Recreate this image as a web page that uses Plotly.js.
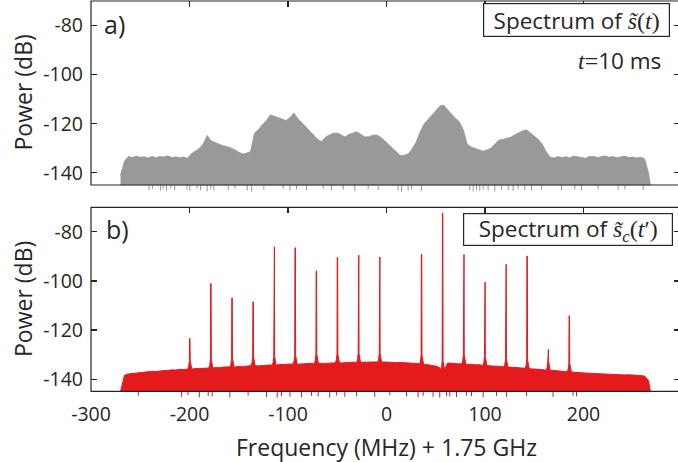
<!DOCTYPE html>
<html><head><meta charset="utf-8">
<script src="https://cdn.plot.ly/plotly-3.0.1.min.js"></script>
<style>html,body{margin:0;padding:0;overflow:hidden;background:#fff}#chart{width:682px;height:462px}</style>
</head><body><div id="chart"></div>
<script>
// ---------------- data ----------------
// frequency grid (MHz offset from 1.75 GHz)
const freqGrid = [-270,-266,-262,-258,-254,-250,-246,-242,-238,-234,-230,-226,-222,-218,-214,-210,-206,-202,-198,-194,-190,-186,-182,-178,-174,-170,-166,-162,-158,-154,-150,-146,-142,-138,-134,-130,-126,-122,-118,-114,-110,-106,-102,-98,-94,-90,-86,-82,-78,-74,-70,-66,-62,-58,-54,-50,-46,-42,-38,-34,-30,-26,-22,-18,-14,-10,-6,-2,2,6,10,14,18,22,26,30,34,38,42,46,50,54,58,62,66,70,74,78,82,86,90,94,98,102,106,110,114,118,122,126,130,134,138,142,146,150,154,158,162,166,170,174,178,182,186,190,194,198,202,206,210,214,218,222,226,230,234,238,242,246,250,254,258,262,266];
// panel a) spectrum of s~(t), top envelope (dB)
const powerA = [
  -141,-135.2,-133.4,-133.8,-133.2,-133.7,-133.5,-134.0,-133.3,-133.9,-133.4,-133.6,-133.1,-133.8,-133.5,-133.9,-133.6,-134.1,
  -132.2,-131.3,-130.1,-128.2,-124.8,-127.0,-127.6,-128.5,-129.0,-129.3,-129.8,-130.6,-131.6,-132.4,-132.0,-131.4,
  -123.8,-122.4,-120.4,-118.8,-116.4,-117.0,-117.5,-118.3,-118.7,-117.6,-115.6,-117.9,-119.6,-121.6,-123.1,-124.8,-126.3,
  -127.3,-125.5,-124.6,-123.9,-123.8,-124.6,-125.4,-124.3,-123.9,-123.3,-124.4,-125.4,-125.3,-124.7,-124.6,-125.5,-126.9,
  -128.4,-130.0,-131.6,-133.0,-132.9,-132.3,-130.3,-127.6,-123.5,-120.2,-118.4,-116.7,-114.8,-112.9,-112.4,-114.5,-116.1,
  -117.7,-119.3,-122.5,-128.4,-129.5,-130.1,-130.7,-131.2,-130.7,-130.0,-128.3,-126.7,-126.4,-125.9,-125.5,-124.6,-123.7,
  -123.0,-122.5,-123.8,-125.3,-126.3,-128.3,-131.3,
  -133.6,-134.0,-133.4,-133.8,-133.5,-133.9,-133.2,-133.6,-133.7,-134.1,-133.4,-133.3,-133.8,-133.5,-133.1,-133.7,-133.4,
  -133.9,-133.5,-133.2,-133.8,-133.6,-134.0,-133.7,-134.2,-140];
const endA = 268;
const dipFreqA = [-241,-237.6,-229.5,-226.8,-223.4,-219,-215,-202.5,-199.7,-192.3,-188.8,-182.1,-178.4,-175.3,-160.7,-153.9,-141.4,-136.9,-124.5,-104.9,-98.1,-91.3,-81.2,-64.3,-55.8,-44,-32.1,-18.6,-8.5,11.8,15.2,22,25.4,35.5,84.6,88,91.4,94.7,98.1,103.2,110,116.8,123.5,128.6,133.6,140.4,147.2,157.4,177.7,191.2,198,214.9,235.2,242.1,260.7];
const dipPowA = [-147,-146.6,-147.3,-146.8,-147.5,-146.5,-147.2,-146.9,-147.4,-146.6,-147.1,-147.6,-146.7,-147.2,-147,-146.5,-147.3,-147.8,-146.9,-146.6,-147.4,-146.8,-147.2,-146.6,-147.3,-146.9,-147.5,-146.7,-147.1,-147.4,-147.8,-147.2,-146.8,-147.5,-147.1,-147.6,-147,-147.4,-146.8,-147.3,-147.6,-146.9,-147.2,-147.5,-146.7,-147.1,-147.4,-146.8,-147.2,-146.9,-147.3,-146.7,-147,-146.8,-147.1];
// panel b) spectrum of s~c(t'), noise floor top (dB)
const powerB = [
  -145,-138.4,-137.9,-137.7,-137.6,-137.3,-137.2,-137.1,-136.8,-136.9,-136.6,-136.5,-136.5,-136.2,-136.3,-136.0,-136.1,
  -135.8,-135.9,-135.7,-135.6,-135.7,-135.4,-135.5,-135.3,-135.4,-135.1,-135.2,-135.0,-135.1,-134.8,-134.9,-134.7,
  -134.8,-134.5,-134.6,-134.4,-134.4,-134.2,-134.3,-134.1,-134.1,-133.9,-134.0,-133.8,-133.9,-133.7,-133.8,-133.6,
  -133.7,-133.5,-133.6,-133.4,-133.5,-133.4,-133.3,-133.4,-133.2,-133.3,-133.1,-133.2,-133.1,-133.0,-133.1,-132.9,
  -133.0,-133.1,-133.0,
  -133.2,-133.1,-133.3,-133.2,-133.4,-133.3,-133.5,-133.6,-133.8,-133.9,-134.1,-134.4,-134.7,-135.3,-136.2,-133.4,
  -133.6,-133.5,-133.8,-133.7,-134.0,-133.9,-134.2,-134.1,-134.4,-134.4,-134.6,-134.6,-134.9,-134.9,-135.1,-135.1,
  -135.3,-135.4,-135.5,-135.6,-135.8,-135.8,-136.0,-136.1,-136.3,-136.4,-136.5,-136.7,-136.8,-136.9,-137.0,-137.2,
  -137.2,-137.4,-137.5,-137.6,-137.7,-137.8,-137.9,-137.9,-138.0,-138.1,-138.1,-138.2,-138.3,-138.2,-138.4,-138.4,
  -138.5,-138.7,-140.5];
const endB = 268;
const spikeFreqB = [-199.7,-178.3,-156.8,-135.4,-114.0,-92.7,-71.2,-49.8,-28.3,-6.9,35.6,57.0,78.5,99.9,121.3,142.8,164.2,185.6];
const spikePowB  = [-123.4,-101.0,-106.9,-108.5,-86.1,-86.5,-95.9,-90.4,-89.5,-90.2,-89.2,-72.4,-89.2,-100.4,-93.2,-89.9,-127.9,-114.2];
const dipFreqB = [-252,-208,-201.5,-190,-181,-177,-159,-140.5,-121.8,-111,-106.6,-98,-86.3,-76.1,-69.4,-57.6,-50.8,-42.3,-30.5,-11.9,3.4,20.3,32.1,37.2,47.3,54.1,60.9,64.3,71.1,81.2,86.3,98.1,111.7,121.8,142.1,169.1,189.4,192.9];
const dipPowB  = [-146.8,-147.2,-146.6,-147.4,-146.9,-147.1,-147.5,-146.7,-147.3,-147.6,-146.9,-147.2,-147.4,-146.8,-147.1,-147.5,-146.7,-147.2,-146.9,-147.3,-146.6,-147,-147.4,-146.8,-147.2,-147.5,-146.9,-147.1,-147.3,-146.7,-147,-147.4,-146.8,-147.2,-146.9,-147.3,-146.7,-147];
// axes
const xTickVals = [-300,-200,-100,0,100,200];
const xTickText = ['-300','-200','-100','0','100','200'];
const yTickVals = [-140,-120,-100,-80];
const yTickText = ['-140','-120','-100','-80'];
const xRange = [-300, 298];
const yTop = -70, yFloor = -145, yLow = -148.5;

// ---------------- layout helpers ----------------
const W = 682, H = 462, M = {l: 91, r: 2, t: 1, b: 62};
const PW = W - M.l - M.r, PH = H - M.t - M.b;
const pxX = px => (px - M.l) / PW;
const pxY = py => (H - M.b - py) / PH;
const domA = [pxY(193.6), 1];
const domB = [0, pxY(207.3)];
const dbToPaper = (db, dom) => dom[0] + (db - yLow) / (yTop - yLow) * (dom[1] - dom[0]);

const GRAY = 'rgb(153,153,153)', RED = 'rgb(228,26,28)', INK = '#262626';
const FONT = 'Open Sans, Noto Sans, sans-serif';
const MATH = 'Liberation Serif, DejaVu Serif, serif';

function polygon(freqs, levels, endF, spikes, peaks) {
  const pts = [];
  freqs.forEach((f, i) => {
    if (!spikes.some(s => Math.abs(s - f) < 2.2)) pts.push([f, levels[i]]);
  });
  spikes.forEach((s, k) => {
    let best = 0;
    freqs.forEach((f, i) => { if (Math.abs(f - s) < Math.abs(freqs[best] - s)) best = i; });
    const b = levels[best];
    pts.push([s - 2, b], [s - 1.1, b + 1.2], [s - 0.45, b + 3.5], [s - 0.2, peaks[k]], [s + 0.2, peaks[k]],
             [s + 0.45, b + 3.5], [s + 1.1, b + 1.2], [s + 2, b]);
  });
  pts.push([endF, yFloor]);
  pts.sort((a, b) => a[0] - b[0]);
  const x = pts.map(p => p[0]), y = pts.map(p => p[1]);
  x.push(endF, freqs[0]); y.push(yFloor, yFloor);
  return {x, y};
}
function dips(freqs, pows) {
  const x = [], y = [];
  freqs.forEach((f, i) => { x.push(f, f, null); y.push(yFloor, pows[i], null); });
  return {x, y};
}

const pA = polygon(freqGrid, powerA, endA, [], []);
const pB = polygon(freqGrid, powerB, endB, spikeFreqB, spikePowB);
const dA = dips(dipFreqA, dipPowA);
const dB = dips(dipFreqB, dipPowB);

const traces = [
  {x: pA.x, y: pA.y, xaxis: 'x', yaxis: 'y', mode: 'lines', fill: 'toself', fillcolor: GRAY, line: {color: GRAY, width: 0.8}, hoverinfo: 'skip'},
  {x: dA.x, y: dA.y, xaxis: 'x', yaxis: 'y', mode: 'lines', line: {color: GRAY, width: 1}, hoverinfo: 'skip'},
  {x: pB.x, y: pB.y, xaxis: 'x2', yaxis: 'y2', mode: 'lines', fill: 'toself', fillcolor: RED, line: {color: RED, width: 1}, hoverinfo: 'skip'},
  {x: dB.x, y: dB.y, xaxis: 'x2', yaxis: 'y2', mode: 'lines', line: {color: RED, width: 1}, hoverinfo: 'skip'},
  {x: [xRange[0]], y: [yLow], xaxis: 'x3', yaxis: 'y', mode: 'markers', marker: {opacity: 0}, hoverinfo: 'skip'},
  {x: [xRange[0]], y: [yLow], xaxis: 'x4', yaxis: 'y2', mode: 'markers', marker: {opacity: 0}, hoverinfo: 'skip'}
];

const tickFont = {family: FONT, size: 19.5, color: INK};
const baseX = {range: xRange, showgrid: false, zeroline: false, showline: false, fixedrange: true};
const topX = Object.assign({}, baseX, {side: 'top', ticks: 'inside', ticklen: 6, tickwidth: 1.2, tickcolor: INK, tickvals: xTickVals, showticklabels: false});
const baseY = {range: [yLow, yTop], showgrid: false, zeroline: false, showline: false, ticks: 'inside', mirror: 'ticks',
  ticklen: 6, tickwidth: 1.2, tickcolor: INK, tickvals: yTickVals, ticktext: yTickText, tickfont: tickFont, ticklabelstandoff: 7};

function boxShape(dom) {
  return {type: 'rect', xref: 'paper', yref: 'paper', x0: 0, x1: 1, y0: dbToPaper(yFloor, dom), y1: dbToPaper(yTop, dom),
    line: {color: INK, width: 1.2}, fillcolor: 'rgba(0,0,0,0)', layer: 'above'};
}

const mathSpan = (s, size) => '<span style="font-family:' + MATH + ';font-size:' + size + 'px">' + s + '</span>';
const titleFont = {family: FONT, size: 23, color: INK};

const annotations = [
  {text: 'Power (dB)', textangle: -90, x: pxX(22.5), y: pxY(93), xref: 'paper', yref: 'paper', showarrow: false, xanchor: 'center', yanchor: 'middle', font: titleFont},
  {text: 'Power (dB)', textangle: -90, x: pxX(22.5), y: pxY(299.5), xref: 'paper', yref: 'paper', showarrow: false, xanchor: 'center', yanchor: 'middle', font: titleFont},
  {text: 'Frequency (MHz) + 1.75 GHz', x: pxX(386), y: pxY(447), xref: 'paper', yref: 'paper', showarrow: false, xanchor: 'center', yanchor: 'middle', font: titleFont},
  {text: 'a)', x: pxX(102), y: pxY(24), xref: 'paper', yref: 'paper', showarrow: false, xanchor: 'left', yanchor: 'middle', font: {family: FONT, size: 25, color: INK}},
  {text: 'b)', x: pxX(104), y: pxY(229), xref: 'paper', yref: 'paper', showarrow: false, xanchor: 'left', yanchor: 'middle', font: {family: FONT, size: 25, color: INK}},
  {text: 'Spectrum of ' + mathSpan('<i>s\u0303</i>(<i>t</i>)', 24), x: pxX(576.5), y: pxY(20), xref: 'paper', yref: 'paper', showarrow: false,
    xanchor: 'center', yanchor: 'middle', width: 183, height: 30, borderpad: 1, bordercolor: INK, borderwidth: 1.2, bgcolor: '#fff', font: {family: FONT, size: 22.5, color: INK}},
  {text: mathSpan('<i>t</i>=', 24) + '10 ms', x: pxX(663), y: pxY(60), xref: 'paper', yref: 'paper', showarrow: false, xanchor: 'right', yanchor: 'middle', font: {family: FONT, size: 22.5, color: INK}},
  {text: 'Spectrum of ' + mathSpan('<i>s\u0303</i><sub><i>c</i></sub>(<i>t</i>\u2032)', 24), x: pxX(568), y: pxY(229.2), xref: 'paper', yref: 'paper', showarrow: false,
    xanchor: 'center', yanchor: 'middle', width: 206, height: 29, borderpad: 1, bordercolor: INK, borderwidth: 1.2, bgcolor: '#fff', font: {family: FONT, size: 22.5, color: INK}}
];

const layout = {
  width: W, height: H, margin: M, paper_bgcolor: '#fff', plot_bgcolor: 'rgba(0,0,0,0)', showlegend: false,
  xaxis: Object.assign({}, baseX, {domain: [0, 1], anchor: 'y', ticks: '', showticklabels: false}),
  xaxis2: Object.assign({}, baseX, {domain: [0, 1], anchor: 'y2', ticks: '', tickvals: xTickVals, ticktext: xTickText, tickfont: tickFont}),
  xaxis3: Object.assign({}, topX, {overlaying: 'x', anchor: 'y'}),
  xaxis4: Object.assign({}, topX, {overlaying: 'x2', anchor: 'y2'}),
  yaxis: Object.assign({}, baseY, {domain: domA, anchor: 'x'}),
  yaxis2: Object.assign({}, baseY, {domain: domB, anchor: 'x2'}),
  shapes: [boxShape(domA), boxShape(domB)],
  annotations: annotations
};

Plotly.newPlot('chart', traces, layout, {staticPlot: true, displayModeBar: false});
</script>
</body></html>
